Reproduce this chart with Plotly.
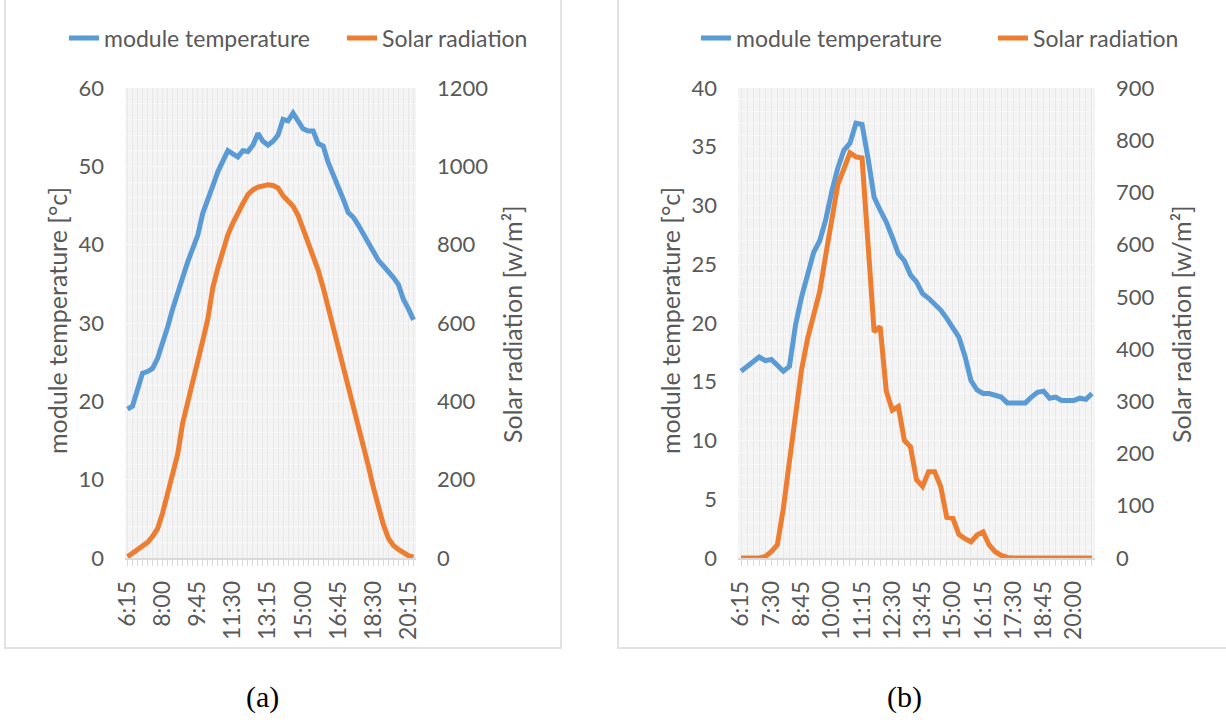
import plotly.graph_objects as go

# ---------------- data ----------------
times_a = []
h, m = 6, 15
for _ in range(58):
    times_a.append(f"{h}:{m:02d}")
    m += 15
    if m == 60:
        h, m = h + 1, 0
times_b = []
h, m = 6, 15
for _ in range(59):
    times_b.append(f"{h}:{m:02d}")
    m += 15
    if m == 60:
        h, m = h + 1, 0

temp_a = [19.0, 19.4, 21.5, 23.6, 23.8, 24.2, 25.5, 27.3, 29.5, 31.8,
          33.6, 35.8, 37.8, 39.3, 41.2, 44.0, 46.0, 47.5, 49.3, 50.5,
          52.0, 51.6, 51.2, 52.0, 51.9, 52.7, 54.2, 53.2, 52.7, 53.2,
          54.0, 56.0, 55.8, 56.8, 55.8, 54.8, 54.5, 54.5, 52.9, 52.6,
          50.5, 49.0, 47.6, 45.8, 44.1, 43.5, 42.5, 41.3, 40.3, 39.2,
          38.0, 37.3, 36.6, 35.8, 34.9, 33.0, 31.8, 30.4]
rad_a = [3, 13, 22, 32, 40, 55, 75, 115, 165, 210,
         265, 345, 395, 450, 505, 555, 610, 690, 740, 785,
         825, 855, 883, 905, 928, 940, 947, 950, 953, 951,
         945, 925, 912, 898, 875, 840, 810, 775, 735, 690,
         640, 590, 545, 490, 440, 390, 335, 285, 235, 180,
         130, 85, 50, 32, 22, 13, 6, 2]

temp_b = [15.9, 16.3, 16.8, 17.1, 16.8, 16.9, 16.4, 15.9, 16.3, 19.8,
          22.2, 24.2, 26.0, 27.0, 28.8, 31.2, 33.2, 34.7, 35.3, 37.0,
          36.9, 34.0, 30.7, 29.6, 28.6, 27.3, 25.9, 25.3, 24.1, 23.5,
          22.5, 22.1, 21.6, 21.1, 20.4, 19.6, 18.8, 17.2, 15.1, 14.3,
          14.0, 14.0, 13.9, 13.7, 13.2, 13.2, 13.1, 13.2, 13.7, 14.1,
          14.2, 13.6, 13.7, 13.4, 13.4, 13.4, 13.6, 13.5, 14.0]
rad_b = [0, 0, 0, 0, 3, 12, 25, 95, 185, 270,
         360, 420, 470, 510, 580, 650, 715, 745, 776, 768,
         766, 600, 433, 443, 320, 283, 290, 225, 213, 150,
         137, 165, 165, 137, 78, 76, 45, 37, 31, 44,
         50, 25, 12, 5, 1, 0, 0, 0, 0, 0,
         0, 0, 0, 0, 0, 0, 0, 0, 0]

series_names = ["module temperature", "Solar radiation"]
left_title = "module temperature [°c]"
right_title = "Solar radiation [w/m²]"
captions = ["(a)", "(b)"]

# ---------------- style ----------------
W, H = 1226, 720
BLUE = "#5B9BD5"
ORANGE = "#ED7D31"
TXT = "#595959"
FONT = "Lato"
FS = 22
FS_LEG = 23
FS_TITLE = 25

def px_x(p):
    return p / W

def px_y(p):
    return 1 - p / H

fig = go.Figure()

fig.add_trace(go.Scatter(x=times_a, y=temp_a, name=series_names[0], mode="lines",
                         line=dict(color=BLUE, width=5), xaxis="x", yaxis="y",
                         legend="legend"))
fig.add_trace(go.Scatter(x=times_a, y=rad_a, name=series_names[1], mode="lines",
                         line=dict(color=ORANGE, width=5), xaxis="x", yaxis="y2",
                         legend="legend"))
fig.add_trace(go.Scatter(x=times_b, y=temp_b, name=series_names[0], mode="lines",
                         line=dict(color=BLUE, width=5), xaxis="x2", yaxis="y3",
                         legend="legend2"))
fig.add_trace(go.Scatter(x=times_b, y=rad_b, name=series_names[1], mode="lines",
                         line=dict(color=ORANGE, width=5), xaxis="x2", yaxis="y4",
                         legend="legend2"))

ydom = [px_y(558), px_y(88)]
xdom_a = [px_x(125), px_x(416)]
xdom_b = [px_x(738), px_x(1095)]

tickfont = dict(family=FONT, size=FS, color=TXT)

def xaxis_cfg(dom, times, step, anchor):
    return dict(domain=dom, anchor=anchor, type="category",
                range=[-0.5, len(times) - 0.5],
                tickmode="array", tickvals=times,
                ticktext=[t if i % step == 0 else "" for i, t in enumerate(times)],
                tickangle=-90, tickfont=dict(family=FONT, size=23, color=TXT),
                ticklabelstandoff=6,
                ticks="outside", ticklen=6, tickcolor="#d9d9d9", tickwidth=1,
                showline=True, linecolor="#d9d9d9", linewidth=1.5,
                showgrid=True, gridcolor="#e9e9e9", gridwidth=1,
                zeroline=False, fixedrange=True, automargin=False)

def ycfg(dom, rng, dtick, minor, anchor, side="left", overlay=None):
    d = dict(domain=dom, anchor=anchor, range=rng, dtick=dtick, side=side,
             tickfont=tickfont, showline=False, zeroline=False,
             ticks="", ticklabelstandoff=20, automargin=False, fixedrange=True)
    if overlay is None:
        d.update(showgrid=True, gridcolor="#f7f7f7", gridwidth=1,
                 minor=dict(dtick=minor, showgrid=True, gridcolor="#fbfbfb", gridwidth=1))
    else:
        d.update(overlaying=overlay, showgrid=False)
    return d

fig.update_layout(
    width=W, height=H,
    margin=dict(l=0, r=0, t=0, b=0, pad=0, autoexpand=False),
    paper_bgcolor="white", plot_bgcolor="#f4f4f4",
    font=dict(family=FONT, size=FS, color=TXT),
    xaxis=xaxis_cfg(xdom_a, times_a, 7, "y"),
    xaxis2=xaxis_cfg(xdom_b, times_b, 5, "y3"),
    yaxis=ycfg(ydom, [0, 60], 10, 2, "x"),
    yaxis2=ycfg(ydom, [0, 1200], 200, 40, "x", side="right", overlay="y"),
    yaxis3=ycfg(ydom, [0, 40], 5, 1, "x2"),
    yaxis4=ycfg(ydom, [0, 900], 100, 20, "x2", side="right", overlay="y3"),
    legend=dict(orientation="h", x=px_x(64), y=px_y(38), xanchor="left", yanchor="middle",
                font=dict(family=FONT, size=FS_LEG, color=TXT), bgcolor="rgba(0,0,0,0)",
                traceorder="normal", entrywidth=233, borderwidth=0),
    legend2=dict(orientation="h", x=px_x(696), y=px_y(38), xanchor="left", yanchor="middle",
                 font=dict(family=FONT, size=FS_LEG, color=TXT), bgcolor="rgba(0,0,0,0)",
                 traceorder="normal", entrywidth=252, borderwidth=0),
    showlegend=True,
)

# panel borders
for x0, x1 in [(5, 561), (618, 1240)]:
    fig.add_shape(type="rect", xref="paper", yref="paper",
                  x0=px_x(x0), x1=px_x(x1), y0=px_y(648), y1=px_y(-10),
                  line=dict(color="#d9d9d9", width=1.5), layer="below")

# axis titles
for xc, yc, txt in [(57, 321, left_title), (512, 324, right_title),
                    (670, 321, left_title), (1181, 324, right_title)]:
    fig.add_annotation(x=px_x(xc), y=px_y(yc), xref="paper", yref="paper",
                       text=txt, textangle=-90, showarrow=False,
                       font=dict(family=FONT, size=FS_TITLE, color=TXT),
                       xanchor="center", yanchor="middle")

# captions
for xc, txt in [(262, captions[0]), (904, captions[1])]:
    fig.add_annotation(x=px_x(xc), y=px_y(697), xref="paper", yref="paper",
                       text=txt, showarrow=False,
                       font=dict(family="Liberation Serif", size=30, color="black"),
                       xanchor="center", yanchor="middle")

fig.write_html("out.html", config={"displayModeBar": False},
               post_script="document.body.style.margin='0';document.body.style.overflow='hidden';")
